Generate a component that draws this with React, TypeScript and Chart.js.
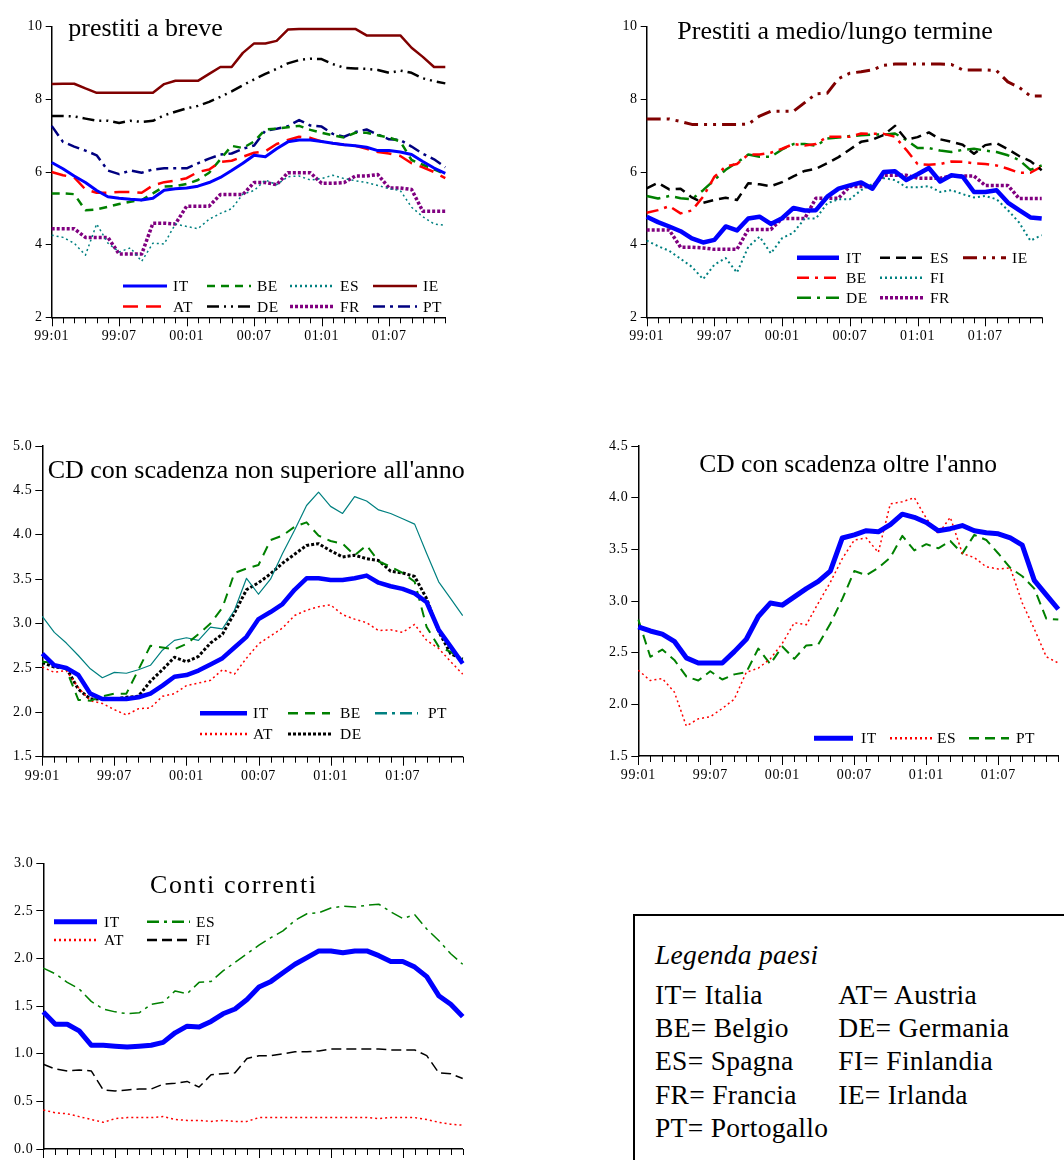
import React, { useEffect, useRef } from 'react';
import { Chart, registerables } from 'chart.js';
Chart.register(...registerables);

const SERIF = '"Liberation Serif", "Times New Roman", serif';

const MONTHS = [
  '99:01', '99:02', '99:03', '99:04', '99:05', '99:06', '99:07', '99:08', '99:09', '99:10', '99:11', '99:12',
  '00:01', '00:02', '00:03', '00:04', '00:05', '00:06', '00:07', '00:08', '00:09', '00:10', '00:11', '00:12',
  '01:01', '01:02', '01:03', '01:04', '01:05', '01:06', '01:07', '01:08', '01:09', '01:10', '01:11', '01:12',
];

// Prestiti a breve
const breveIT = [6.26, 6.09, 5.89, 5.71, 5.49, 5.32, 5.28, 5.25, 5.23, 5.28, 5.5, 5.54, 5.56, 5.61, 5.71, 5.85, 6.04, 6.24, 6.46, 6.42, 6.64, 6.83, 6.88, 6.88, 6.84, 6.79, 6.75, 6.72, 6.68, 6.59, 6.59, 6.55, 6.48, 6.29, 6.11, 5.96];
const breveAT = [6.0, 5.91, 5.85, 5.52, 5.43, 5.43, 5.45, 5.45, 5.43, 5.63, 5.72, 5.76, 5.83, 6.0, 6.07, 6.28, 6.31, 6.42, 6.53, 6.57, 6.77, 6.88, 6.97, 6.94, 6.84, 6.79, 6.75, 6.72, 6.64, 6.55, 6.51, 6.44, 6.24, 6.13, 6.0, 5.83];
const breveBE = [5.41, 5.41, 5.39, 4.95, 4.97, 5.04, 5.12, 5.18, 5.23, 5.41, 5.6, 5.61, 5.67, 5.78, 5.98, 6.35, 6.72, 6.66, 6.84, 7.17, 7.19, 7.23, 7.27, 7.16, 7.08, 7.01, 6.95, 7.08, 7.08, 7.01, 6.95, 6.84, 6.33, 6.2, 6.07, 5.94];
const breveDE = [7.54, 7.54, 7.53, 7.47, 7.41, 7.41, 7.35, 7.41, 7.38, 7.41, 7.56, 7.66, 7.75, 7.82, 7.93, 8.07, 8.22, 8.39, 8.55, 8.7, 8.84, 8.99, 9.08, 9.12, 9.11, 8.97, 8.87, 8.85, 8.84, 8.81, 8.73, 8.79, 8.73, 8.58, 8.5, 8.44];
const breveES = [4.26, 4.2, 4.04, 3.71, 4.57, 4.04, 3.8, 3.91, 3.54, 4.04, 4.02, 4.57, 4.5, 4.44, 4.7, 4.86, 4.99, 5.39, 5.49, 5.78, 5.65, 5.87, 5.89, 5.78, 5.82, 5.91, 5.82, 5.76, 5.71, 5.63, 5.54, 5.49, 5.03, 4.77, 4.57, 4.53];
const breveFR = [4.44, 4.44, 4.44, 4.2, 4.2, 4.2, 3.74, 3.74, 3.74, 4.59, 4.59, 4.57, 5.06, 5.06, 5.06, 5.38, 5.38, 5.38, 5.71, 5.71, 5.65, 5.98, 5.98, 5.98, 5.69, 5.69, 5.71, 5.89, 5.89, 5.93, 5.56, 5.56, 5.52, 4.92, 4.92, 4.92];
const breveIE = [8.42, 8.43, 8.43, 8.3, 8.18, 8.18, 8.18, 8.18, 8.18, 8.18, 8.42, 8.51, 8.51, 8.51, 8.7, 8.89, 8.89, 9.28, 9.54, 9.54, 9.61, 9.92, 9.94, 9.94, 9.94, 9.94, 9.94, 9.94, 9.76, 9.76, 9.76, 9.76, 9.42, 9.17, 8.89, 8.89];
const brevePT = [7.27, 6.83, 6.7, 6.59, 6.46, 6.04, 5.94, 6.04, 5.98, 6.07, 6.1, 6.1, 6.1, 6.24, 6.37, 6.48, 6.51, 6.64, 6.73, 7.14, 7.19, 7.26, 7.43, 7.28, 7.25, 7.05, 6.97, 7.1, 7.17, 7.03, 6.9, 6.88, 6.7, 6.5, 6.35, 6.13];

// Prestiti a medio/lungo termine
const mltIT = [4.77, 4.62, 4.5, 4.37, 4.17, 4.06, 4.13, 4.5, 4.39, 4.72, 4.77, 4.57, 4.73, 5.01, 4.94, 4.95, 5.32, 5.54, 5.63, 5.71, 5.54, 6.0, 6.02, 5.78, 5.94, 6.11, 5.74, 5.91, 5.87, 5.45, 5.45, 5.5, 5.16, 4.95, 4.75, 4.72];
const mltBE = [4.88, 4.95, 5.06, 4.86, 4.94, 5.32, 5.87, 6.15, 6.22, 6.48, 6.48, 6.53, 6.64, 6.77, 6.73, 6.77, 6.97, 6.97, 6.97, 7.06, 7.05, 7.05, 6.97, 6.61, 6.22, 6.2, 6.22, 6.29, 6.28, 6.24, 6.22, 6.18, 6.09, 5.98, 5.98, 6.15];
const mltDE = [5.34, 5.27, 5.34, 5.28, 5.25, 5.5, 5.78, 6.06, 6.26, 6.48, 6.42, 6.42, 6.62, 6.77, 6.77, 6.72, 6.92, 6.95, 6.99, 7.01, 7.03, 7.03, 7.06, 6.88, 6.66, 6.66, 6.59, 6.55, 6.61, 6.64, 6.59, 6.55, 6.46, 6.33, 6.06, 6.18];
const mltES = [5.55, 5.7, 5.52, 5.54, 5.3, 5.15, 5.23, 5.29, 5.23, 5.69, 5.66, 5.61, 5.72, 5.88, 6.03, 6.09, 6.24, 6.41, 6.62, 6.83, 6.89, 7.02, 7.27, 6.89, 6.96, 7.09, 6.9, 6.83, 6.75, 6.5, 6.74, 6.79, 6.63, 6.44, 6.3, 6.05];
const mltFI = [4.11, 3.96, 3.83, 3.61, 3.39, 3.05, 3.45, 3.63, 3.23, 3.94, 4.22, 3.76, 4.18, 4.33, 4.72, 4.72, 5.14, 5.25, 5.25, 5.5, 5.67, 5.83, 5.78, 5.58, 5.58, 5.61, 5.45, 5.5, 5.39, 5.3, 5.34, 5.25, 4.95, 4.61, 4.11, 4.26];
const mltFR = [4.4, 4.4, 4.4, 3.93, 3.93, 3.91, 3.87, 3.87, 3.87, 4.42, 4.42, 4.42, 4.72, 4.72, 4.72, 5.28, 5.28, 5.28, 5.6, 5.6, 5.6, 5.91, 5.91, 5.91, 5.83, 5.83, 5.83, 5.89, 5.89, 5.89, 5.63, 5.63, 5.63, 5.27, 5.27, 5.27];
const mltIE = [7.46, 7.46, 7.46, 7.39, 7.31, 7.31, 7.31, 7.31, 7.31, 7.32, 7.54, 7.67, 7.67, 7.67, 7.91, 8.15, 8.17, 8.57, 8.72, 8.76, 8.81, 8.94, 8.97, 8.97, 8.97, 8.97, 8.97, 8.96, 8.81, 8.81, 8.81, 8.79, 8.48, 8.33, 8.09, 8.09];

// CD con scadenza non superiore all'anno
const cdbIT = [2.66, 2.53, 2.5, 2.42, 2.21, 2.15, 2.15, 2.15, 2.17, 2.21, 2.3, 2.4, 2.42, 2.47, 2.54, 2.61, 2.73, 2.85, 3.05, 3.13, 3.22, 3.38, 3.51, 3.51, 3.49, 3.49, 3.51, 3.54, 3.46, 3.42, 3.39, 3.34, 3.24, 2.93, 2.74, 2.55];
const cdbAT = [2.51, 2.45, 2.47, 2.28, 2.13, 2.1, 2.03, 1.97, 2.04, 2.05, 2.18, 2.21, 2.3, 2.33, 2.36, 2.48, 2.43, 2.61, 2.77, 2.86, 2.95, 3.09, 3.15, 3.19, 3.21, 3.1, 3.05, 3.01, 2.92, 2.93, 2.9, 2.99, 2.81, 2.72, 2.57, 2.43];
const cdbBE = [2.57, 2.56, 2.48, 2.14, 2.13, 2.18, 2.21, 2.21, 2.48, 2.75, 2.73, 2.71, 2.77, 2.88, 3.0, 3.18, 3.57, 3.62, 3.66, 3.94, 3.99, 4.09, 4.14, 3.99, 3.93, 3.9, 3.77, 3.88, 3.7, 3.64, 3.57, 3.47, 2.96, 2.74, 2.68, 2.59];
const cdbDE = [2.56, 2.51, 2.5, 2.26, 2.15, 2.15, 2.15, 2.17, 2.18, 2.35, 2.48, 2.62, 2.57, 2.63, 2.78, 2.88, 3.12, 3.38, 3.46, 3.56, 3.68, 3.78, 3.88, 3.9, 3.82, 3.75, 3.77, 3.73, 3.71, 3.59, 3.57, 3.53, 3.28, 2.91, 2.66, 2.6];
const cdbPT = [3.08, 2.9, 2.78, 2.64, 2.49, 2.39, 2.45, 2.44, 2.48, 2.53, 2.7, 2.81, 2.84, 2.81, 2.96, 2.94, 3.15, 3.51, 3.33, 3.5, 3.79, 4.05, 4.33, 4.48, 4.32, 4.24, 4.43, 4.38, 4.28, 4.24, 4.18, 4.12, 3.79, 3.47, 3.28, 3.09];

// CD con scadenza oltre l'anno
const cdlIT = [2.75, 2.71, 2.68, 2.61, 2.45, 2.4, 2.4, 2.4, 2.51, 2.63, 2.85, 2.98, 2.96, 3.04, 3.12, 3.19, 3.29, 3.61, 3.64, 3.68, 3.67, 3.74, 3.84, 3.81, 3.76, 3.68, 3.7, 3.73, 3.68, 3.66, 3.65, 3.61, 3.54, 3.2, 3.06, 2.92];
const cdlES = [2.33, 2.23, 2.25, 2.12, 1.79, 1.86, 1.88, 1.96, 2.05, 2.31, 2.35, 2.44, 2.59, 2.79, 2.77, 2.98, 3.18, 3.41, 3.59, 3.61, 3.47, 3.94, 3.96, 4.0, 3.8, 3.65, 3.81, 3.46, 3.42, 3.33, 3.31, 3.32, 2.98, 2.73, 2.46, 2.4];
const cdlPT = [2.82, 2.46, 2.53, 2.43, 2.27, 2.23, 2.32, 2.24, 2.29, 2.31, 2.54, 2.39, 2.56, 2.44, 2.57, 2.58, 2.78, 3.02, 3.29, 3.25, 3.32, 3.42, 3.63, 3.49, 3.55, 3.51, 3.58, 3.46, 3.64, 3.59, 3.46, 3.32, 3.24, 3.12, 2.83, 2.82];

// Conti correnti
const ccIT = [1.44, 1.31, 1.31, 1.24, 1.09, 1.09, 1.08, 1.07, 1.08, 1.09, 1.12, 1.22, 1.29, 1.28, 1.34, 1.42, 1.47, 1.57, 1.7, 1.76, 1.85, 1.94, 2.01, 2.08, 2.08, 2.06, 2.08, 2.08, 2.03, 1.97, 1.97, 1.91, 1.81, 1.61, 1.52, 1.39];
const ccES = [1.9, 1.84, 1.75, 1.68, 1.55, 1.47, 1.44, 1.42, 1.43, 1.52, 1.54, 1.66, 1.63, 1.75, 1.76, 1.87, 1.96, 2.05, 2.14, 2.22, 2.29, 2.4, 2.47, 2.48, 2.53, 2.55, 2.54, 2.56, 2.57, 2.49, 2.42, 2.46, 2.31, 2.19, 2.05, 1.94];
const ccAT = [0.41, 0.38, 0.37, 0.34, 0.31, 0.28, 0.32, 0.33, 0.33, 0.33, 0.34, 0.31, 0.3, 0.3, 0.29, 0.3, 0.29, 0.29, 0.33, 0.33, 0.33, 0.33, 0.33, 0.33, 0.33, 0.33, 0.33, 0.33, 0.32, 0.33, 0.33, 0.33, 0.31, 0.28, 0.26, 0.25];
const ccFI = [0.89, 0.84, 0.82, 0.83, 0.82, 0.62, 0.61, 0.62, 0.63, 0.63, 0.68, 0.69, 0.71, 0.65, 0.78, 0.79, 0.8, 0.95, 0.98, 0.98, 1.0, 1.02, 1.02, 1.03, 1.05, 1.05, 1.05, 1.05, 1.05, 1.04, 1.04, 1.04, 0.98, 0.8, 0.79, 0.74];

const BLUE = '#0000ff';
const RED = '#ff0000';
const GREEN = '#008000';
const TEAL = '#008080';
const BLACK = '#000000';
const PURPLE = '#800080';
const DARKRED = '#800000';
const NAVY = '#000080';

type Series = { label: string; data: number[]; color: string; width: number; dash: number[]; legendDash?: number[]; legendWidth?: number };
type LegendItem = { label: string; x: number; x2: number; tx: number; y: number };
type Rect = { left: number; top: number; width: number; height: number };
type Area = { left: number; top: number; right: number; bottom: number };
type PanelCfg = {
  canvas: Rect;
  area: Area;
  yMin: number; yMax: number; yStep: number; yDec: number; yFont: number; yTick: number;
  title: { text: string; x: number; y: number; size: number; spacing: number };
  legendFont: number;
  series: Series[];
  legend: LegendItem[];
};

const panels: PanelCfg[] = [
  {
    canvas: { left: 0, top: 0, width: 470, height: 350 },
    area: { left: 51.7, top: 26.7, right: 445.3, bottom: 317.3 },
    yMin: 2, yMax: 10, yStep: 2, yDec: 0, yFont: 14, yTick: 6,
    title: { text: 'prestiti a breve', x: 68.3, y: 36, size: 26, spacing: 0 },
    legendFont: 15.5,
    series: [
      { label: 'IT', data: breveIT, color: BLUE, width: 3, dash: [] },
      { label: 'AT', data: breveAT, color: RED, width: 2.5, dash: [15, 8] },
      { label: 'BE', data: breveBE, color: GREEN, width: 2.5, dash: [8, 6] },
      { label: 'DE', data: breveDE, color: BLACK, width: 2.5, dash: [12, 5, 2, 5, 2, 5] },
      { label: 'ES', data: breveES, color: TEAL, width: 1.5, dash: [2, 3] },
      { label: 'FR', data: breveFR, color: PURPLE, width: 3.5, dash: [3, 2] },
      { label: 'IE', data: breveIE, color: DARKRED, width: 2.5, dash: [] },
      { label: 'PT', data: brevePT, color: NAVY, width: 2.5, dash: [12, 5, 3, 5] },
    ],
    legend: [
      { label: 'IT', x: 123, x2: 167, tx: 173, y: 286 },
      { label: 'BE', x: 207, x2: 251, tx: 257, y: 286 },
      { label: 'ES', x: 290, x2: 334, tx: 340, y: 286 },
      { label: 'IE', x: 373, x2: 417, tx: 423, y: 286 },
      { label: 'AT', x: 123, x2: 167, tx: 173, y: 306.5 },
      { label: 'DE', x: 207, x2: 251, tx: 257, y: 306.5 },
      { label: 'FR', x: 290, x2: 334, tx: 340, y: 306.5 },
      { label: 'PT', x: 373, x2: 417, tx: 423, y: 306.5 },
    ],
  },
  {
    canvas: { left: 590, top: 0, width: 474, height: 350 },
    area: { left: 646.7, top: 26.7, right: 1041.7, bottom: 317.3 },
    yMin: 2, yMax: 10, yStep: 2, yDec: 0, yFont: 14, yTick: 6,
    title: { text: 'Prestiti a medio/lungo termine', x: 677.3, y: 39.3, size: 26, spacing: 0 },
    legendFont: 15.5,
    series: [
      { label: 'IT', data: mltIT, color: BLUE, width: 4.5, dash: [] },
      { label: 'ES', data: mltES, color: BLACK, width: 2.5, dash: [10, 6] },
      { label: 'BE', data: mltBE, color: RED, width: 2.5, dash: [12, 6, 3, 6] },
      { label: 'DE', data: mltDE, color: GREEN, width: 2.5, dash: [14, 6, 3, 6] },
      { label: 'FI', data: mltFI, color: TEAL, width: 2, dash: [2, 3] },
      { label: 'FR', data: mltFR, color: PURPLE, width: 3.5, dash: [3, 2] },
      { label: 'IE', data: mltIE, color: DARKRED, width: 3, dash: [14, 6, 3, 6, 3, 6] },
    ],
    legend: [
      { label: 'IT', x: 797, x2: 839, tx: 846, y: 257.7 },
      { label: 'ES', x: 880, x2: 923, tx: 930, y: 257.7 },
      { label: 'IE', x: 963, x2: 1006, tx: 1012, y: 257.7 },
      { label: 'BE', x: 797, x2: 839, tx: 846, y: 277.7 },
      { label: 'FI', x: 880, x2: 923, tx: 930, y: 277.7 },
      { label: 'DE', x: 797, x2: 839, tx: 846, y: 297.7 },
      { label: 'FR', x: 880, x2: 923, tx: 930, y: 297.7 },
    ],
  },
  {
    canvas: { left: 0, top: 420, width: 480, height: 370 },
    area: { left: 42.3, top: 446, right: 462.7, bottom: 756.7 },
    yMin: 1.5, yMax: 5, yStep: 0.5, yDec: 1, yFont: 14, yTick: 7,
    title: { text: "CD con scadenza non superiore all'anno", x: 47.7, y: 478.3, size: 26, spacing: 0 },
    legendFont: 15.5,
    series: [
      { label: 'IT', data: cdbIT, color: BLUE, width: 4.5, dash: [] },
      { label: 'BE', data: cdbBE, color: GREEN, width: 2, dash: [10, 7] },
      { label: 'PT', data: cdbPT, color: TEAL, width: 1.2, dash: [], legendDash: [12, 5, 3, 5], legendWidth: 2.5 },
      { label: 'AT', data: cdbAT, color: RED, width: 1.5, dash: [2, 3] },
      { label: 'DE', data: cdbDE, color: BLACK, width: 3, dash: [3, 2] },
    ],
    legend: [
      { label: 'IT', x: 200, x2: 247, tx: 253, y: 713.3 },
      { label: 'BE', x: 288, x2: 330, tx: 340, y: 713.3 },
      { label: 'PT', x: 375, x2: 418, tx: 428, y: 713.3 },
      { label: 'AT', x: 200, x2: 247, tx: 253, y: 734 },
      { label: 'DE', x: 288, x2: 333, tx: 340, y: 734 },
    ],
  },
  {
    canvas: { left: 580, top: 420, width: 484, height: 370 },
    area: { left: 638.3, top: 446, right: 1058.3, bottom: 756 },
    yMin: 1.5, yMax: 4.5, yStep: 0.5, yDec: 1, yFont: 14, yTick: 7,
    title: { text: "CD con scadenza oltre l'anno", x: 699.3, y: 471.7, size: 25.5, spacing: 0 },
    legendFont: 15.5,
    series: [
      { label: 'IT', data: cdlIT, color: BLUE, width: 5, dash: [] },
      { label: 'ES', data: cdlES, color: RED, width: 1.5, dash: [2, 3] },
      { label: 'PT', data: cdlPT, color: GREEN, width: 2, dash: [10, 6] },
    ],
    legend: [
      { label: 'IT', x: 814, x2: 853, tx: 861, y: 738.3 },
      { label: 'ES', x: 890, x2: 932, tx: 937, y: 738.3 },
      { label: 'PT', x: 969, x2: 1009, tx: 1016, y: 738.3 },
    ],
  },
  {
    canvas: { left: 0, top: 840, width: 480, height: 340 },
    area: { left: 43.3, top: 863.3, right: 462.7, bottom: 1149 },
    yMin: 0, yMax: 3, yStep: 0.5, yDec: 1, yFont: 14, yTick: 7,
    title: { text: 'Conti correnti', x: 150, y: 893.3, size: 26, spacing: 1.6 },
    legendFont: 15.5,
    series: [
      { label: 'IT', data: ccIT, color: BLUE, width: 5, dash: [] },
      { label: 'ES', data: ccES, color: GREEN, width: 1.5, dash: [12, 5, 3, 5] },
      { label: 'AT', data: ccAT, color: RED, width: 1.5, dash: [2, 3] },
      { label: 'FI', data: ccFI, color: BLACK, width: 1.5, dash: [10, 5] },
    ],
    legend: [
      { label: 'IT', x: 54, x2: 97, tx: 104, y: 921.7 },
      { label: 'ES', x: 147, x2: 190, tx: 196, y: 921.7 },
      { label: 'AT', x: 54, x2: 97, tx: 104, y: 940 },
      { label: 'FI', x: 147, x2: 190, tx: 196, y: 940 },
    ],
  },
];

function decorPlugin(p: PanelCfg) {
  return {
    id: 'decor',
    beforeDraw(chart: any) {
      chart.ctx.letterSpacing = '0.6px';
    },
    afterDraw(chart: any) {
      const ctx = chart.ctx as CanvasRenderingContext2D;
      const ox = p.canvas.left;
      const oy = p.canvas.top;
      const xs = chart.scales.x;
      const b = chart.chartArea.bottom;
      ctx.save();
      ctx.strokeStyle = '#000';
      ctx.lineWidth = 1;
      ctx.setLineDash([]);
      for (let i = 0; i < MONTHS.length; i++) {
        const x = Math.round(xs.getPixelForValue(i)) + 0.5;
        const len = i % 6 === 0 ? 9 : 6;
        ctx.beginPath();
        ctx.moveTo(x, b);
        ctx.lineTo(x, b + len);
        ctx.stroke();
      }
      ctx.restore();

      ctx.save();
      (ctx as any).letterSpacing = p.title.spacing + 'px';
      ctx.font = `${p.title.size}px ${SERIF}`;
      ctx.fillStyle = '#000';
      ctx.textAlign = 'left';
      ctx.textBaseline = 'alphabetic';
      ctx.fillText(p.title.text, p.title.x - ox, p.title.y - oy);
      ctx.restore();

      for (const it of p.legend) {
        const s = p.series.find((q) => q.label === it.label);
        if (!s) continue;
        ctx.save();
        ctx.strokeStyle = s.color;
        ctx.lineWidth = s.legendWidth ?? Math.max(s.width, 2.5);
        ctx.setLineDash(s.legendDash ?? s.dash);
        ctx.lineCap = 'butt';
        ctx.beginPath();
        ctx.moveTo(it.x - ox, it.y - oy);
        ctx.lineTo(it.x2 - ox, it.y - oy);
        ctx.stroke();
        ctx.setLineDash([]);
        (ctx as any).letterSpacing = '0.5px';
        ctx.font = `${p.legendFont}px ${SERIF}`;
        ctx.fillStyle = '#000';
        ctx.textAlign = 'left';
        ctx.textBaseline = 'middle';
        ctx.fillText(it.label, it.tx - ox, it.y - oy + 1);
        ctx.restore();
      }
    },
  };
}

function PanelChart({ p }: { p: PanelCfg }) {
  const ref = useRef<HTMLCanvasElement>(null);
  useEffect(() => {
    const c = p.canvas;
    const a = p.area;
    const yWidth = a.left - c.left;
    const xHeight = c.top + c.height - a.bottom;
    const chart = new Chart(ref.current as HTMLCanvasElement, {
      type: 'line',
      data: {
        labels: MONTHS,
        datasets: p.series.map((s) => ({
          label: s.label,
          data: s.data,
          borderColor: s.color,
          backgroundColor: s.color,
          borderWidth: s.width,
          borderDash: s.dash,
          borderCapStyle: 'butt' as const,
          borderJoinStyle: 'round' as const,
          pointRadius: 0,
          tension: 0,
          fill: false,
        })),
      },
      options: {
        responsive: false,
        animation: false,
        events: [],
        layout: {
          padding: { left: 0, top: a.top - c.top, right: c.left + c.width - a.right, bottom: 0 },
        },
        plugins: {
          legend: { display: false },
          tooltip: { enabled: false },
          title: { display: false },
        },
        scales: {
          x: {
            type: 'category',
            offset: false,
            ticks: {
              autoSkip: false,
              maxRotation: 0,
              minRotation: 0,
              color: '#000',
              padding: 2,
              font: { family: SERIF, size: 14 },
              callback: (_v: any, i: number) => (i % 6 === 0 ? MONTHS[i] : ''),
            },
            grid: { display: true, drawOnChartArea: false, drawTicks: true, tickLength: 9, color: 'rgba(0,0,0,0)' },
            border: { display: true, color: '#000', width: 1.5 },
            afterFit: (s: any) => {
              s.height = xHeight;
            },
          },
          y: {
            type: 'linear',
            min: p.yMin,
            max: p.yMax,
            ticks: {
              stepSize: p.yStep,
              color: '#000',
              padding: 3,
              font: { family: SERIF, size: p.yFont },
              callback: (v: any) => Number(v).toFixed(p.yDec),
            },
            grid: { display: true, drawOnChartArea: false, drawTicks: true, tickLength: p.yTick, color: '#000', lineWidth: 1 },
            border: { display: true, color: '#000', width: 1.5 },
            afterFit: (s: any) => {
              s.width = yWidth;
            },
          },
        },
      },
      plugins: [decorPlugin(p)],
    } as any);
    return () => chart.destroy();
  }, [p]);
  return (
    <canvas
      ref={ref}
      width={p.canvas.width}
      height={p.canvas.height}
      style={{ position: 'absolute', left: p.canvas.left, top: p.canvas.top, width: p.canvas.width, height: p.canvas.height }}
    />
  );
}

const legendLeft = ['IT= Italia', 'BE= Belgio', 'ES= Spagna', 'FR= Francia', 'PT= Portogallo'];
const legendRight = ['AT= Austria', 'DE= Germania', 'FI= Finlandia', 'IE= Irlanda'];

function LegendBox() {
  const rowTops = [980.5, 1013.9, 1047.2, 1080.5, 1113.9];
  const txt: React.CSSProperties = {
    position: 'absolute',
    fontFamily: SERIF,
    fontSize: 27.5,
    lineHeight: '27.5px',
    letterSpacing: '0.3px',
    color: '#000',
    whiteSpace: 'nowrap',
  };
  return (
    <>
      <div
        style={{
          position: 'absolute',
          left: 632.5,
          top: 914,
          width: 460,
          height: 280,
          border: '2px solid #000',
          boxSizing: 'border-box',
        }}
      />
      <div style={{ ...txt, left: 655, top: 941, fontStyle: 'italic' }}>Legenda paesi</div>
      {legendLeft.map((t, i) => (
        <div key={'l' + i} style={{ ...txt, left: 655, top: rowTops[i] }}>{t}</div>
      ))}
      {legendRight.map((t, i) => (
        <div key={'r' + i} style={{ ...txt, left: 838.3, top: rowTops[i] }}>{t}</div>
      ))}
    </>
  );
}

export default function App() {
  return (
    <div
      style={{
        position: 'fixed',
        left: 0,
        top: 0,
        width: 1064,
        height: 1160,
        overflow: 'hidden',
        background: '#fff',
      }}
    >
      {panels.map((p, i) => (
        <PanelChart key={i} p={p} />
      ))}
      <LegendBox />
    </div>
  );
}
